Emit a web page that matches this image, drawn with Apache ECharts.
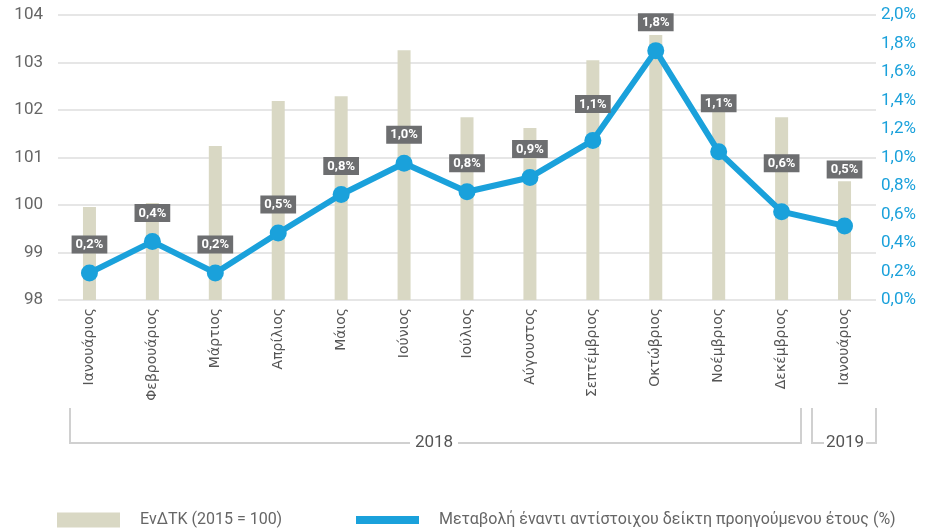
<!DOCTYPE html>
<html lang="el">
<head>
    <meta charset="UTF-8">
    <title>ΕνΔΤΚ</title>
    <script src="https://cdn.jsdelivr.net/npm/echarts@6/dist/echarts.min.js"></script>
</head>
<body style="margin:0">
<div id="main" style="width: 950px;height: 530px;"></div>

<script type="text/javascript">
    // μήνες
    var months = ['Ιανουάριος', 'Φεβρουάριος', 'Μάρτιος', 'Απρίλιος', 'Μάιος', 'Ιούνιος', 'Ιούλιος',
        'Αύγουστος', 'Σεπτέμβριος', 'Οκτώβριος', 'Νοέμβριος', 'Δεκέμβριος', 'Ιανουάριος'];
    // ΕνΔΤΚ (2015 = 100)
    var indexValues = [99.96, 100.04, 101.24, 102.19, 102.29, 103.26, 101.85, 101.62, 103.05, 103.58, 101.96, 101.85, 100.5];
    // μεταβολή (%)
    var changeValues = [0.19, 0.41, 0.19, 0.47, 0.74, 0.96, 0.76, 0.86, 1.12, 1.75, 1.04, 0.62, 0.52];
    var changeLabels = ['0,2%', '0,4%', '0,2%', '0,5%', '0,8%', '1,0%', '0,8%', '0,9%', '1,1%', '1,8%', '1,1%', '0,6%', '0,5%'];
    var barName = 'ΕνΔΤΚ (2015 = 100)';
    var lineName = 'Μεταβολή έναντι αντίστοιχου δείκτη προηγούμενου έτους (%)';
    var years = ['2018', '2019'];

    var font = 'Roboto, "Liberation Sans", sans-serif';
    var blue = '#1aa1db';
    var gray = '#666';

    var myChart = echarts.init(document.getElementById('main'));

    // ετικέτες: λίγο ψηλότερα στο τέλος
    var lineData = changeValues.map(function (v, i) {
        var extra = 0;
        if (i == 8) extra = 8;
        if (i == 10 || i == 11) extra = 20;
        if (i == 12) extra = 28;
        return {value: v, label: {distance: 11 + extra}};
    });

    var option = {
        animation: false,
        textStyle: {fontFamily: font},
        grid: {left: 58, right: 74, top: 15, bottom: 230},
        legend: [
            {
                data: [barName], left: 52, top: 507, itemWidth: 63, itemHeight: 15, icon: 'rect',
                textStyle: {color: gray, fontSize: 16, lineHeight: 15, padding: [0, 0, 0, 15], fontFamily: font}
            },
            {
                data: [lineName], left: 351, top: 507, itemWidth: 63, itemHeight: 8, icon: 'rect',
                itemStyle: {color: blue},
                textStyle: {color: gray, fontSize: 16, lineHeight: 15, padding: [0, 0, 0, 15], fontFamily: font}
            }
        ],
        xAxis: {
            type: 'category',
            data: months,
            axisLine: {show: false},
            axisTick: {show: false},
            axisLabel: {interval: 0, rotate: 90, color: '#555', fontSize: 14, margin: 8, fontFamily: 'DejaVu Sans'}
        },
        yAxis: [
            {
                type: 'value', min: 98, max: 104, interval: 1,
                axisLabel: {color: gray, fontSize: 17, margin: 15},
                splitLine: {lineStyle: {color: '#e6e6e6', width: 2}}
            },
            {
                type: 'value', min: 0, max: 2, interval: 0.2,
                axisLabel: {
                    color: blue, fontSize: 17, margin: 5,
                    formatter: function (v) { return v.toFixed(1).replace('.', ',') + '%'; }
                },
                splitLine: {show: false}
            }
        ],
        graphic: [
            {type: 'polyline', shape: {points: [[70, 408], [70, 443], [410, 443]]}, style: {stroke: '#d0d0d0', lineWidth: 2, fill: null}},
            {type: 'polyline', shape: {points: [[458, 443], [801, 443], [801, 408]]}, style: {stroke: '#d0d0d0', lineWidth: 2, fill: null}},
            {type: 'text', x: 434, y: 443, style: {text: years[0], fill: '#555', font: '17px ' + font, align: 'center', verticalAlign: 'middle'}},
            {type: 'polyline', shape: {points: [[812, 408], [812, 443], [824, 443]]}, style: {stroke: '#d0d0d0', lineWidth: 2, fill: null}},
            {type: 'polyline', shape: {points: [[866, 443], [876, 443], [876, 408]]}, style: {stroke: '#d0d0d0', lineWidth: 2, fill: null}},
            {type: 'text', x: 845, y: 443, style: {text: years[1], fill: '#555', font: '17px ' + font, align: 'center', verticalAlign: 'middle'}}
        ],
        series: [
            {
                name: barName,
                type: 'bar',
                barWidth: 13,
                itemStyle: {color: '#d9d8c4'},
                data: indexValues
            },
            {
                name: lineName,
                type: 'line',
                yAxisIndex: 1,
                symbol: 'circle',
                symbolSize: 17,
                lineStyle: {color: blue, width: 6},
                itemStyle: {color: blue},
                label: {
                    show: true,
                    position: 'top',
                    formatter: function (p) { return changeLabels[p.dataIndex]; },
                    backgroundColor: '#6d6e70',
                    color: '#fff',
                    fontWeight: 'bold',
                    fontSize: 13,
                    padding: [3, 4, 2, 4],
                    fontFamily: font
                },
                data: lineData
            }
        ]
    };

    myChart.setOption(option);
</script>
</body>
</html>
